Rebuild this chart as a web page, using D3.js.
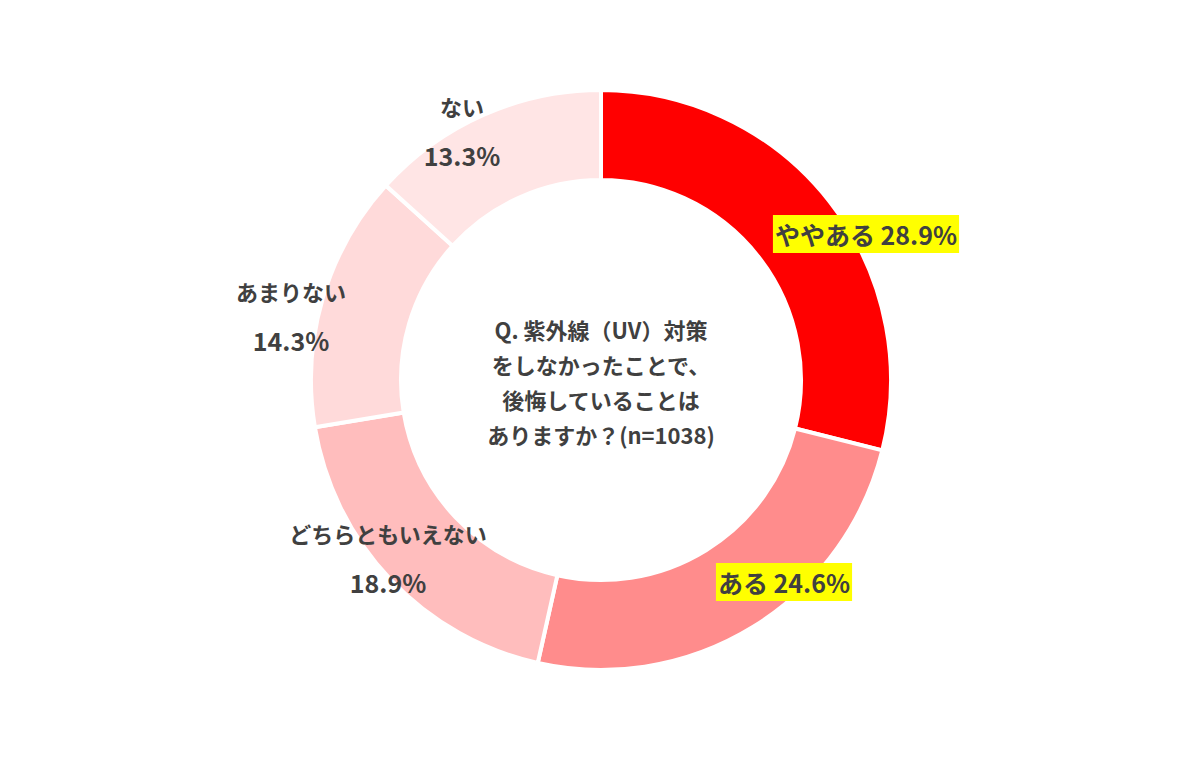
<!DOCTYPE html>
<html><head><meta charset="utf-8">
<script src="https://cdn.jsdelivr.net/npm/d3@7"></script>
<style>body{margin:0;background:#fff;}</style>
</head><body>
<svg id="chart" width="1200" height="761"></svg>
<script>
var categories = ["ややある", "ある", "どちらともいえない", "あまりない", "ない"];
var values = [28.9, 24.6, 18.9, 14.3, 13.3];
var colors = ["#ff0000", "#ff8c8c", "#ffbdbd", "#ffdada", "#ffe5e5"];
var centerLines = ["Q. 紫外線（UV）対策", "をしなかったことで、", "後悔していることは", "ありますか？(n=1038)"];

var svg = d3.select("#chart");
var cx = 601, cy = 380;
var g = svg.append("g").attr("transform", "translate(" + cx + "," + cy + ")");

var pie = d3.pie().sort(null).value(function (d) { return d; });
var arc = d3.arc().innerRadius(200).outerRadius(290);
var arcs = pie(values);

g.selectAll("path").data(arcs).enter().append("path")
    .attr("d", arc)
    .attr("fill", function (d, i) { return colors[i]; })
    .attr("stroke", "#fff").attr("stroke-width", 4);

var font = "'Noto Sans CJK JP', sans-serif";
var txtColor = "#404040";

// highlighted labels (single line, yellow box)
var hl = [{i: 0, x: 866, y: 234}, {i: 1, x: 784, y: 582}];
hl.forEach(function (h) {
    var t = svg.append("text").attr("x", h.x).attr("y", h.y)
        .attr("text-anchor", "middle").attr("dominant-baseline", "central")
        .attr("font-family", font).attr("font-weight", "bold").attr("font-size", 25)
        .attr("fill", txtColor)
        .text(categories[h.i] + "  " + values[h.i].toFixed(1) + "%");
    var b = t.node().getBBox();
    svg.insert("rect", "text").attr("x", b.x - 2).attr("y", b.y - 1)
        .attr("width", b.width + 4).attr("height", b.height + 2).attr("fill", "#ffff00");
});

// two-line labels
var tl = [{i: 2, x: 388, y1: 533, y2: 582}, {i: 3, x: 291, y1: 291, y2: 340}, {i: 4, x: 462, y1: 106, y2: 155}];
tl.forEach(function (l) {
    svg.append("text").attr("x", l.x).attr("y", l.y1)
        .attr("text-anchor", "middle").attr("dominant-baseline", "central")
        .attr("font-family", font).attr("font-weight", "bold").attr("font-size", 22)
        .attr("fill", txtColor).text(categories[l.i]);
    svg.append("text").attr("x", l.x).attr("y", l.y2)
        .attr("text-anchor", "middle").attr("dominant-baseline", "central")
        .attr("font-family", font).attr("font-weight", "bold").attr("font-size", 25)
        .attr("fill", txtColor).text(values[l.i].toFixed(1) + "%");
});

svg.selectAll(".center").data(centerLines).enter().append("text")
    .attr("x", cx).attr("y", function (d, i) { return 329 + i * 35; })
    .attr("text-anchor", "middle").attr("dominant-baseline", "central")
    .attr("font-family", font).attr("font-weight", "bold").attr("font-size", 22)
    .attr("fill", txtColor).text(function (d) { return d; });
</script>
</body></html>
